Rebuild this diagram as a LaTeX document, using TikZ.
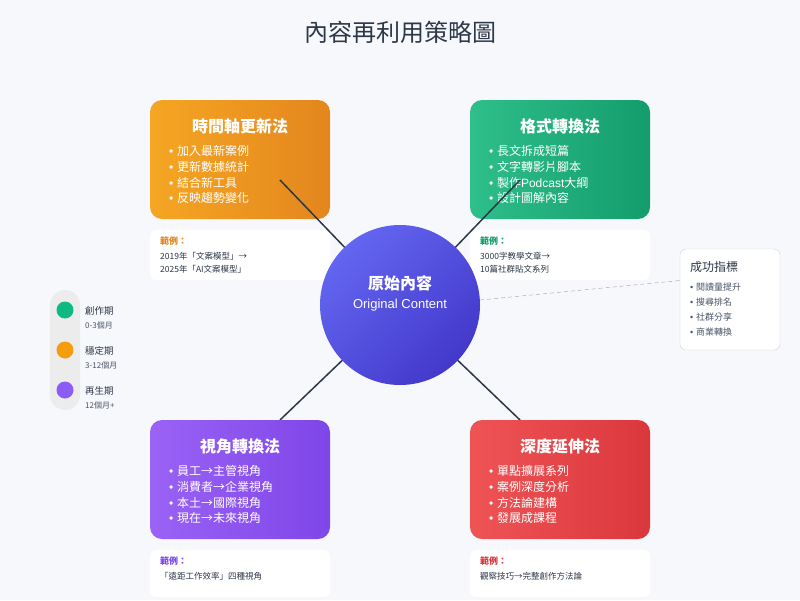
\documentclass[tikz,border=0pt]{standalone}
\usepackage{fontspec}
\setmainfont{Noto Sans CJK TC}
\newfontfamily\latinfont{Liberation Sans}
\newcommand\listdot{{\latinfont •}\hspace{0.3em}}

\definecolor{pagebg}{HTML}{F7F8FB}
\definecolor{slate}{HTML}{2D3748}
\definecolor{textgray}{HTML}{4A5568}
\definecolor{orangeA}{HTML}{F5A623}
\definecolor{orangeB}{HTML}{E3861E}
\definecolor{greenA}{HTML}{2EBF8B}
\definecolor{greenB}{HTML}{149C6C}
\definecolor{purpleA}{HTML}{9A62F5}
\definecolor{purpleB}{HTML}{7F46E8}
\definecolor{redA}{HTML}{EF5455}
\definecolor{redB}{HTML}{DA373C}
\definecolor{coreA}{HTML}{6366F1}
\definecolor{coreB}{HTML}{4338CA}
\definecolor{legGreen}{HTML}{10B981}
\definecolor{legOrange}{HTML}{F59E0B}
\definecolor{legPurple}{HTML}{8B5CF6}

\begin{document}
\begin{tikzpicture}[
    x=1pt, y=-1pt,
    method/.style={
        rectangle,
        rounded corners=12pt,
        minimum width=180pt,
        minimum height=119pt,
        inner sep=0pt
    },
    example/.style={
        rectangle,
        rounded corners=6pt,
        fill=white,
        minimum width=180pt,
        inner sep=0pt
    },
    headline/.style={
        text=white,
        font=\fontsize{16}{19}\selectfont\bfseries
    },
    bullets/.style={
        anchor=north west,
        inner sep=0pt,
        align=left,
        text=white,
        font=\fontsize{12}{15.7}\selectfont
    },
    tag/.style={
        anchor=west,
        inner sep=0pt,
        font=\fontsize{9}{11}\selectfont\bfseries
    },
    sample/.style={
        anchor=north west,
        inner sep=0pt,
        align=left,
        text=slate,
        font=\fontsize{8.5}{13}\selectfont
    },
    link/.style={
        draw=slate,
        line width=1.5pt
    }
]

% Achtergrond
\fill[pagebg] (0,0) rectangle (800,600);
\useasboundingbox (0,0) rectangle (800,600);

% Titel
\node[text=slate, font=\fontsize{24}{28}\selectfont] (title) at (400,32) {內容再利用策略圖};

% Methoden boven
\node[method, left color=orangeA, right color=orangeB] (timebox) at (240,159.5) {};
\node[headline] (timehead) at (240,126) {時間軸更新法};
\node[bullets] (timelist) at (169,145.5) {\listdot 加入最新案例\\\listdot 更新數據統計\\\listdot 結合新工具\\\listdot 反映趨勢變化};

\node[method, left color=greenA, right color=greenB] (formatbox) at (560,159.5) {};
\node[headline] (formathead) at (560,126) {格式轉換法};
\node[bullets] (formatlist) at (489,145.5) {\listdot 長文拆成短篇\\\listdot 文字轉影片腳本\\\listdot 製作{\latinfont Podcast}大綱\\\listdot 設計圖解內容};

% Voorbeelden boven
\node[example, minimum height=50pt] (timeex) at (240,255) {};
\node[tag, text=orangeB] (timetag) at (160,241.5) {範例：};
\node[sample] (timetext) at (160,252.5) {2019年「文案模型」→\\2025年「AI文案模型」};

\node[example, minimum height=50pt] (formatex) at (560,255) {};
\node[tag, text=greenB] (formattag) at (480,241.5) {範例：};
\node[sample] (formattext) at (480,252.5) {3000字教學文章→\\10篇社群貼文系列};

% Verbindingen
\coordinate (core) at (400,305);
\coordinate (tl) at (280,180);
\coordinate (tr) at (520,180);
\coordinate (bl) at (280,420);
\coordinate (br) at (520,420);
\foreach \c in {tl,tr,bl,br}
    \draw[link] (core) -- (\c);

% Methoden onder
\node[method, left color=purpleA, right color=purpleB] (viewbox) at (240,479.5) {};
\node[headline] (viewhead) at (240,446) {視角轉換法};
\node[bullets] (viewlist) at (169,465.5) {\listdot 員工→主管視角\\\listdot 消費者→企業視角\\\listdot 本土→國際視角\\\listdot 現在→未來視角};

\node[method, left color=redA, right color=redB] (deepbox) at (560,479.5) {};
\node[headline] (deephead) at (560,446) {深度延伸法};
\node[bullets] (deeplist) at (489,465.5) {\listdot 單點擴展系列\\\listdot 案例深度分析\\\listdot 方法論建構\\\listdot 發展成課程};

% Voorbeelden onder
\node[example, minimum height=47pt] (viewex) at (240,573.5) {};
\node[tag, text=purpleB] (viewtag) at (160,561.5) {範例：};
\node[sample] (viewtext) at (160,572.5) {「遠距工作效率」四種視角};

\node[example, minimum height=47pt] (deepex) at (560,573.5) {};
\node[tag, text=redB] (deeptag) at (480,561.5) {範例：};
\node[sample] (deeptext) at (480,572.5) {觀察技巧→完整創作方法論};

% Kern
\node[circle, minimum size=160pt, inner sep=0pt, left color=coreA, right color=coreB, shading angle=45] (corenode) at (core) {};
\node[text=white, font=\fontsize{16}{19}\selectfont\bfseries] (corecn) at (400,283) {原始內容};
\node[text=white, font=\fontsize{13}{15}\latinfont\selectfont] (coreen) at (400,305) {Original Content};

% Succesindicatoren
\node[rectangle, rounded corners=6pt, draw=gray!35, fill=white, minimum width=100pt, minimum height=101pt] (metrics) at (730,299.5) {};
\node[anchor=west, inner sep=0pt, text=slate, font=\fontsize{12}{14}\selectfont] (metricshead) at (690,267) {成功指標};
\node[anchor=north west, inner sep=0pt, align=left, text=textgray, font=\fontsize{9}{15}\selectfont] (metricslist) at (690,282.5) {\listdot 閱讀量提升\\\listdot 搜尋排名\\\listdot 社群分享\\\listdot 商業轉換};
\draw[gray!75, dash pattern=on 4pt off 3pt] ([yshift=5pt]corenode.east) -- ([yshift=19pt]metrics.west);

% Legenda
\fill[gray!15, rounded corners=15pt] (50,290) rectangle (80,410);
\foreach \y/\col/\phase/\months [count=\i] in {310/legGreen/創作期/0-3個月, 350/legOrange/穩定期/3-12個月, 390/legPurple/再生期/12個月+} {
    \fill[\col] (65,\y) circle (8.5pt);
    \node[anchor=west, inner sep=0pt, text=slate, font=\fontsize{9.5}{11}\selectfont] (phase\i) at (85,\y+1) {\phase};
    \node[anchor=west, inner sep=0pt, text=textgray, font=\fontsize{8}{10}\selectfont] (months\i) at (85,\y+15) {\months};
}

\end{tikzpicture}
\end{document}
